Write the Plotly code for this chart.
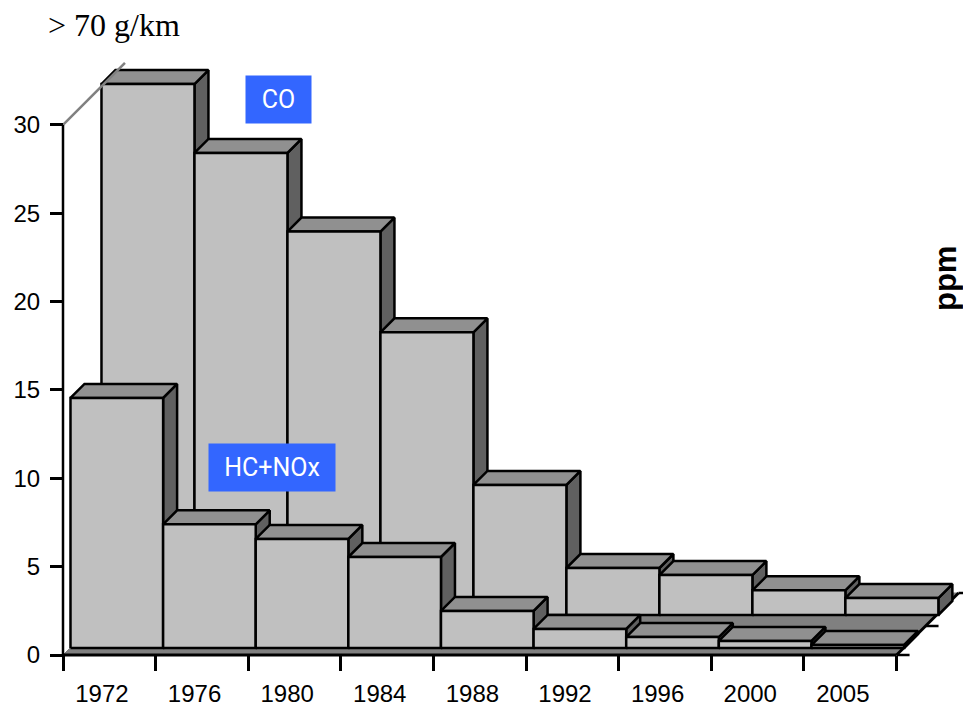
import plotly.graph_objects as go

years = ["1972", "1976", "1980", "1984", "1988", "1992", "1996", "2000", "2005"]
co_values = [30.05, 26.15, 21.7, 16.0, 7.36, 2.66, 2.26, 1.4, 0.96]
hc_nox_values = [14.15, 7.0, 6.17, 5.15, 2.1, 1.08, 0.62, 0.4, 0.17]
y_ticks = [0, 5, 10, 15, 20, 25, 30]

W, H = 963, 707
ORIGIN_X, ORIGIN_Y = 62.5, 655
PAD = 5  # plot area extends past the axis origin so thick lines are not clipped
L = ORIGIN_X - PAD
B = H - ORIGIN_Y - PAD
PLOT_W = W - L
PLOT_H = H - B
PX_X = 92.67
PX_Y = 17.67


def dx(px):
    return px / PX_X


def dy(px):
    return px / PX_Y


FRONT = "#c0c0c0"
TOP = "#909090"
SIDE = "#606060"
FLOOR = "#808080"
traces = []


def poly(xs, ys, fill, line_color="black", width=2.5):
    traces.append(go.Scatter(
        x=xs + [xs[0]], y=ys + [ys[0]], mode="lines", fill="toself", fillcolor=fill,
        line=dict(color=line_color, width=width), hoverinfo="skip", showlegend=False,
    ))


def segment(xs, ys, color="black", width=2.5):
    traces.append(go.Scatter(
        x=xs, y=ys, mode="lines", line=dict(color=color, width=width),
        hoverinfo="skip", showlegend=False,
    ))


# Floor plane
poly([0, 9, 9 + dx(62), dx(62)], [0, 0, dy(62), dy(62)], FLOOR, FLOOR, 1)
segment([9, 9 + dx(62)], [0, dy(62)], "black", 3)


def series(values, off_x, off_y, depth, step):
    ox, oy = dx(off_x), dy(off_y)
    ddx, ddy = dx(depth), dy(depth)
    for i, v in enumerate(values):
        x0, x1 = i * step + ox, (i + 1) * step + ox
        y0, y1 = oy, oy + v
        poly([x1, x1 + ddx, x1 + ddx, x1], [y0, y0 + ddy, y1 + ddy, y1], SIDE)
        poly([x0, x1, x1 + ddx, x0 + ddx], [y1, y1, y1 + ddy, y1 + ddy], TOP)
        poly([x0, x1, x1, x0], [y0, y0, y1, y1], FRONT)


series(co_values, 38.5, 40, 14, 1.004)
series(hc_nox_values, 7.5, 7, 14, 1.0)

# Axis lines and the wall edge
segment([0, dx(62)], [30, 30 + dy(62)], "#808080", 2.5)
segment([0, 0], [0, 30], "black", 2.5)
segment([0, 9], [0, 0], "black", 3)
for d in (0, 29, 62):
    segment([9 + dx(d), 9 + dx(d + 13)], [dy(d), dy(d)], "black", 2.5)

fig = go.Figure(traces)
# Empty trace carrying the label axis
fig.add_trace(go.Scatter(x=[0], y=[0], xaxis="x2", mode="markers", marker=dict(opacity=0),
                         hoverinfo="skip", showlegend=False))

x_range = [-dx(PAD), (W - ORIGIN_X) / PX_X]
y_range = [-dy(PAD), ORIGIN_Y / PX_Y]
axis_font = dict(family="Liberation Sans", size=24, color="black")
x_axis_pos = PAD / PLOT_H
y_axis_pos = PAD / PLOT_W


def note(text, px, py, w, h):
    return dict(text=text, x=dx(px - ORIGIN_X), y=dy(ORIGIN_Y - py), xref="x", yref="y",
                showarrow=False, width=w, height=h, bgcolor="#3366ff", align="center", valign="middle",
                font=dict(family="Roboto", size=25, color="white"))


def page_text(text, px, py, family, size, angle=0):
    return dict(text=text, x=dx(px - ORIGIN_X), y=dy(ORIGIN_Y - py), xref="x", yref="y",
                showarrow=False, textangle=angle, font=dict(family=family, size=size, color="black"))


fig.update_layout(
    width=W, height=H, autosize=False,
    margin=dict(l=L, r=0, t=0, b=B, pad=0),
    paper_bgcolor="white", plot_bgcolor="white", showlegend=False,
    xaxis=dict(range=x_range, tickvals=list(range(10)), ticktext=[""] * 10, ticks="outside",
               anchor="free", position=x_axis_pos,
               ticklen=15, tickwidth=2.5, tickcolor="black", showgrid=False, zeroline=False, showline=False),
    xaxis2=dict(range=x_range, overlaying="x", anchor="free", position=x_axis_pos, side="bottom",
                tickvals=[i + 0.42 for i in range(len(years))], ticktext=years, ticks="",
                ticklabelstandoff=22, tickfont=axis_font, showgrid=False, zeroline=False, showline=False),
    yaxis=dict(range=y_range, tickvals=y_ticks, ticks="outside", ticklen=13, tickwidth=2.5, tickcolor="black",
               anchor="free", position=y_axis_pos,
               tickfont=axis_font, ticklabelstandoff=5, showgrid=False, zeroline=False, showline=False),
    annotations=[
        note("CO", 278.5, 99.5, 63, 45),
        note("HC+NOx", 272, 467.5, 124, 45),
        page_text("&gt; 70 g/km", 114, 25, "Liberation Serif", 32),
        page_text("<b>ppm</b>", 945, 279, "Liberation Sans", 31, -90),
    ],
)

fig.write_html("out.html", config=dict(displayModeBar=False),
               post_script="document.body.style.margin='0';document.documentElement.style.overflow='hidden';")
